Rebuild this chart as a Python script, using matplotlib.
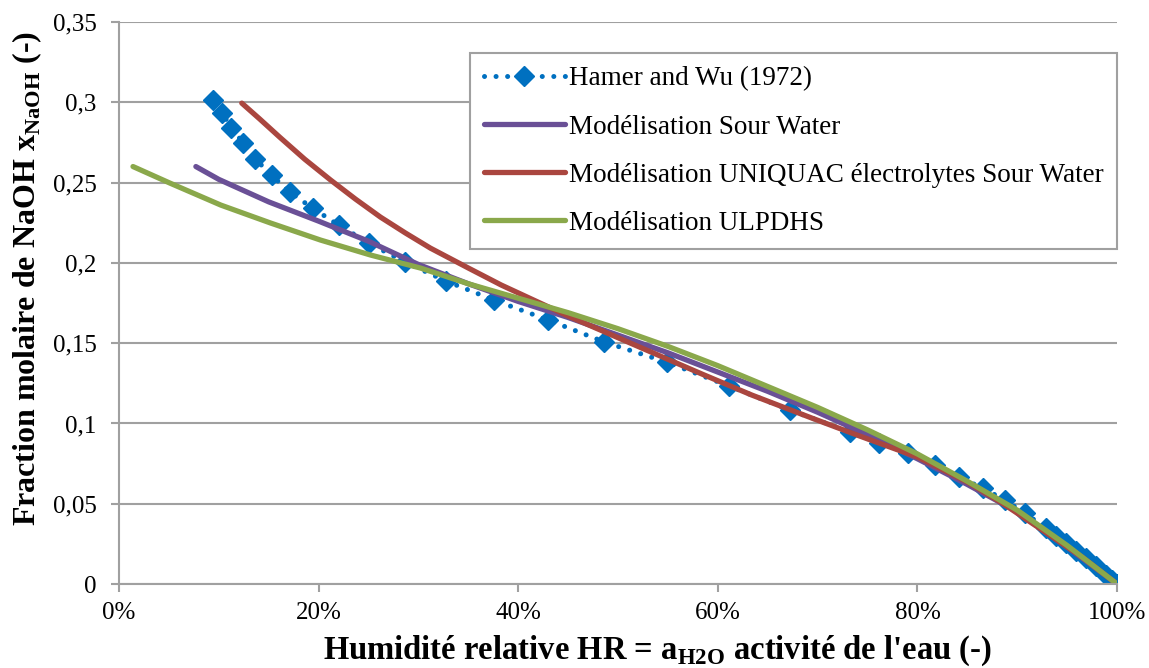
import matplotlib
matplotlib.use("Agg")
import matplotlib.pyplot as plt
from matplotlib.ticker import FuncFormatter, MultipleLocator

plt.rcParams['font.family'] = ['Liberation Serif', 'DejaVu Serif']
plt.rcParams['mathtext.fontset'] = 'custom'
plt.rcParams['mathtext.rm'] = 'Liberation Serif'
plt.rcParams['mathtext.bf'] = 'Liberation Serif:bold'

# Hamer and Wu (1972) - relative humidity (%) vs NaOH mole fraction
hamer_x = [9.45, 10.35, 11.26, 12.46, 13.67, 15.28, 17.09, 19.40, 22.01, 25.03,
           28.64, 32.76, 37.59, 43.02, 48.64, 54.87, 61.11, 67.24, 73.27, 76.18,
           79.10, 81.71, 84.12, 86.53, 88.74, 90.75, 92.86, 93.9, 94.87, 95.9,
           96.88, 97.9, 98.9, 99.5, 100.0]
hamer_y = [0.3014, 0.2933, 0.2839, 0.2746, 0.2646, 0.2546, 0.2441, 0.2341, 0.2235, 0.2123,
           0.2005, 0.1887, 0.1768, 0.1644, 0.1507, 0.1382, 0.1233, 0.1083, 0.0946, 0.0878,
           0.0816, 0.0741, 0.0666, 0.0598, 0.0523, 0.0442, 0.0349, 0.0302, 0.0255, 0.0208,
           0.0162, 0.0110, 0.0058, 0.0028, 0.0]

# Modelisation Sour Water
sw_x = [7.7, 10, 15, 20, 25, 30, 35, 40, 45, 50, 55, 60, 65, 70, 75, 80, 85, 90, 95, 100]
sw_y = [0.260, 0.252, 0.238, 0.226, 0.2135, 0.199, 0.187, 0.176, 0.166, 0.155, 0.144,
        0.132, 0.120, 0.107, 0.093, 0.078, 0.062, 0.045, 0.023, 0.0]

# Modelisation UNIQUAC electrolytes Sour Water
uq_x = [12.3, 14.1, 16.1, 18.6, 21.2, 23.7, 26.2, 28.7, 31.2, 35.0, 38.3, 45.0, 51.7,
        58.4, 63.4, 69.4, 74.2, 80.0, 85.0, 88.5, 92.5, 96.5, 100.0]
uq_y = [0.2995, 0.2896, 0.2783, 0.2646, 0.2516, 0.2397, 0.2285, 0.2186, 0.2092, 0.1968,
        0.1862, 0.1669, 0.1488, 0.1308, 0.1177, 0.1034, 0.0922, 0.0791, 0.0635, 0.0504,
        0.0336, 0.0168, 0.0]

# Modelisation ULPDHS
ul_x = [1.4, 5.1, 10.2, 15.2, 20.2, 25.2, 30.2, 35, 40, 45, 50, 55, 60, 65, 70, 75,
        80, 85, 90, 95, 100]
ul_y = [0.260, 0.2497, 0.236, 0.2248, 0.2142, 0.2049, 0.1968, 0.187, 0.178, 0.169,
        0.159, 0.148, 0.136, 0.123, 0.110, 0.096, 0.081, 0.064, 0.046, 0.024, 0.0]

fig = plt.figure(figsize=(11.49, 6.68), dpi=100)
ax = fig.add_axes([0.1036, 0.1257, 0.8686, 0.8413])

grid_col = '#a0a0a0'
ax.plot(hamer_x, hamer_y, color='#0070c0', linestyle=(0, (0.01, 2.3)), linewidth=3.6,
        dash_capstyle='round', marker='D', markersize=10, label='Hamer and Wu (1972)')
ax.plot(sw_x, sw_y, color='#6a5096', linewidth=3.8, solid_capstyle='round',
        label='Modélisation Sour Water')
ax.plot(uq_x, uq_y, color='#aa463f', linewidth=3.8, solid_capstyle='round',
        label='Modélisation UNIQUAC électrolytes Sour Water')
ax.plot(ul_x, ul_y, color='#8aa84b', linewidth=3.8, solid_capstyle='round',
        label='Modélisation ULPDHS')

ax.set_xlim(0, 100)
ax.set_ylim(0, 0.35)
ax.xaxis.set_major_locator(MultipleLocator(20))
ax.yaxis.set_major_locator(MultipleLocator(0.05))
ax.xaxis.set_major_formatter(FuncFormatter(lambda v, p: '%d%%' % round(v)))
ax.yaxis.set_major_formatter(FuncFormatter(
    lambda v, p: ('%.2f' % v).rstrip('0').rstrip('.').replace('.', ',')))

ax.grid(axis='y', color=grid_col, linewidth=1.5)
ax.set_axisbelow(True)
for s in ['top', 'right']:
    ax.spines[s].set_visible(False)
for s in ['left', 'bottom']:
    ax.spines[s].set_color(grid_col)
    ax.spines[s].set_linewidth(1.5)
ax.tick_params(axis='both', colors=grid_col, width=1.5, length=6, labelsize=18,
               labelcolor='black')
ax.tick_params(axis='x', pad=7)
ax.tick_params(axis='y', pad=10)

ax.set_xlabel(r"Humidité relative HR = a$_{\mathbf{H2O}}$ activité de l'eau (-)",
              fontsize=23.5, fontweight='bold')
ax.xaxis.set_label_coords(0.539, -0.119)
ax.xaxis.label.set_verticalalignment('center')
ax.set_ylabel(r"Fraction molaire de NaOH x$_{\mathbf{NaOH}}$ (-)",
              fontsize=23, fontweight='bold')
ax.yaxis.set_label_coords(-0.0922, 0.5445)
ax.yaxis.label.set_verticalalignment('center')

leg = ax.legend(loc='upper right', bbox_to_anchor=(1.0, 0.945), borderaxespad=0,
                fontsize=19.5, numpoints=1, handlelength=3.0, handletextpad=0.15,
                labelspacing=0.85, borderpad=0.5, fancybox=False)
leg.get_frame().set_edgecolor(grid_col)
leg.get_frame().set_linewidth(1.5)
leg.get_frame().set_alpha(1)

fig.savefig('out.png', dpi=100)
